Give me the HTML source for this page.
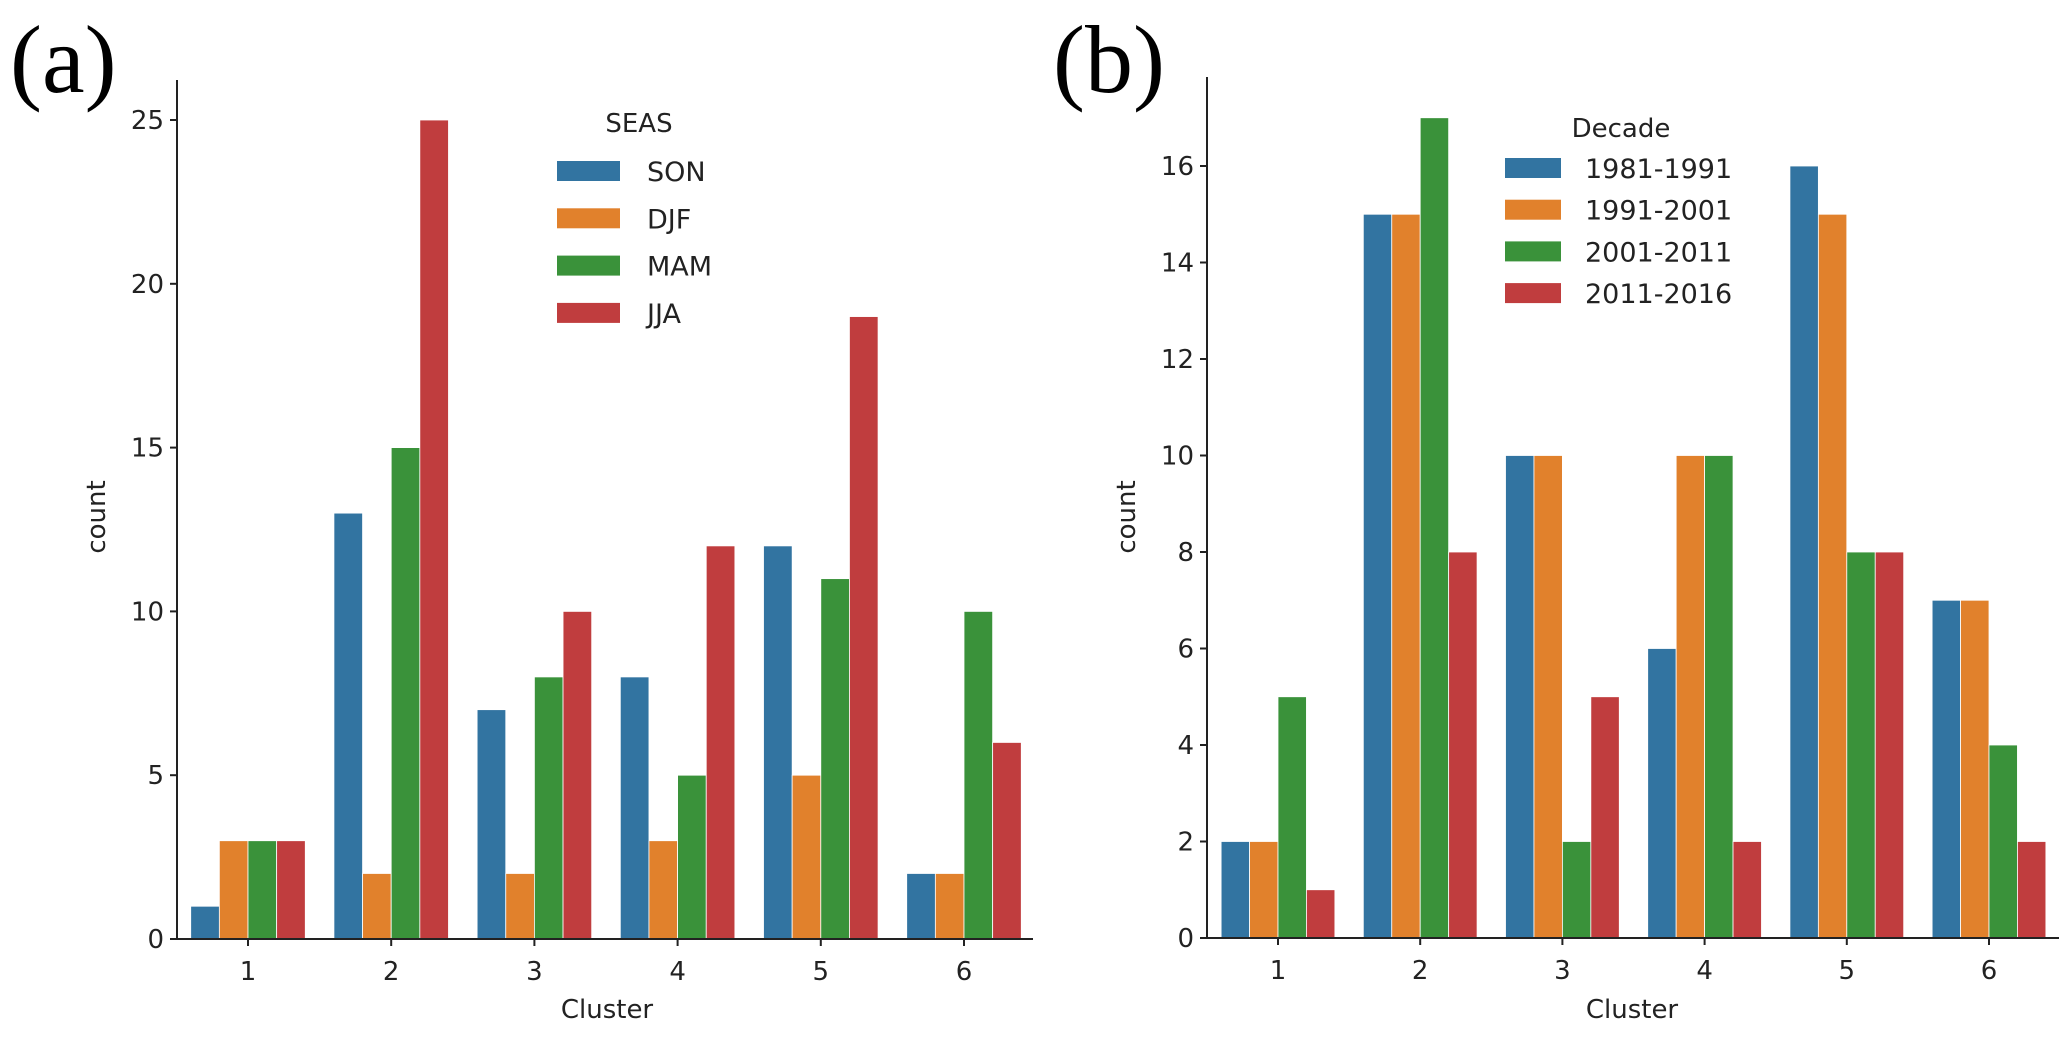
<!DOCTYPE html>
<html><head><meta charset="utf-8"><style>
body{margin:0;background:#fff}
svg text{font-family:"DejaVu Sans","Liberation Sans",sans-serif;fill:#222}
</style></head><body>
<svg id="c" width="2067" height="1038" xmlns="http://www.w3.org/2000/svg"></svg>
<script>
const categories=["1","2","3","4","5","6"];
const seasNames=["SON","DJF","MAM","JJA"];
const seasSON=[1,13,7,8,12,2];
const seasDJF=[3,2,2,3,5,2];
const seasMAM=[3,15,8,5,11,10];
const seasJJA=[3,25,10,12,19,6];
const ticksA=[0,5,10,15,20,25];
const decNames=["1981-1991","1991-2001","2001-2011","2011-2016"];
const dec1=[2,15,10,6,16,7];
const dec2=[2,15,10,10,15,7];
const dec3=[5,17,2,10,8,4];
const dec4=[1,8,5,2,8,2];
const ticksB=[0,2,4,6,8,10,12,14,16];
const colors=["#3274a1","#e1812c","#3a923a","#c03d3e"];
const svg=document.getElementById('c');
const NS="http://www.w3.org/2000/svg";
function mk(tag,attrs,parent){const e=document.createElementNS(NS,tag);for(const k in attrs)e.setAttribute(k,attrs[k]);(parent||svg).appendChild(e);return e;}
function panel(p){
  const g=mk('g',{});
  
  
  const y=v=>p.base-v*p.unit;
  const x=i=>p.c1+i*p.sp;
  const bw=p.sp*0.8/4;
  p.series.forEach((s,si)=>{
    s.forEach((v,i)=>{
      const r=mk('rect',{x:x(i)-p.sp*0.4+si*bw,y:y(v),width:bw,height:v*p.unit,fill:colors[si],stroke:'#fff','stroke-width':0.8},g);
      
      
    });
  });
  const ax=mk('path',{d:`M${p.ax} ${p.top}V${p.base}H${p.xend}`,stroke:'#222','stroke-width':2,fill:'none'},g);
  
  
  p.ticks.forEach(t=>{
    mk('line',{x1:p.ax-7,x2:p.ax,y1:y(t),y2:y(t),stroke:'#222','stroke-width':2},g);
    const tx=mk('text',{x:p.ax-13,y:y(t)+9,'font-size':26,'text-anchor':'end'},g);
    tx.textContent=t;
    
    
  });
  categories.forEach((c,i)=>{
    mk('line',{x1:x(i),x2:x(i),y1:p.base,y2:p.base+7,stroke:'#222','stroke-width':2},g);
    const tx=mk('text',{x:x(i),y:p.base+41,'font-size':26,'text-anchor':'middle'},g);
    tx.textContent=c;
    
    
  });
  const xt=mk('text',{x:p.xlab,y:1018,'font-size':26,'text-anchor':'middle'},g);
  xt.textContent='Cluster';
  
  
  const yt=mk('text',{x:0,y:0,'font-size':26,'text-anchor':'middle',transform:`translate(${p.ylabx},517) rotate(-90)`},g);
  yt.textContent='count';
  
  
  const lt=mk('text',{x:p.lt[0],y:p.lt[1]+9,'font-size':26,'text-anchor':'middle'},g);
  lt.textContent=p.ltitle;
  
  
  p.names.forEach((n,i)=>{
    const ry=p.rows[0]+i*p.rowsp;
    const r=mk('rect',{x:p.px,y:ry-10,width:p.pw,height:20,fill:colors[i]},g);
    
    
    const t=mk('text',{x:p.lx,y:ry+10,'font-size':27},g);
    t.textContent=n;
    
    
  });
  const pl=mk('text',{x:p.plx,y:92,'font-size':96,style:'font-family:"Liberation Serif",serif;fill:#000'},g);
  pl.textContent=p.plabel;
  
  
}
panel({id:'panel-a',series:[seasSON,seasDJF,seasMAM,seasJJA],names:seasNames,ticks:ticksA,base:939,unit:32.76,c1:248,sp:143.2,ax:177,top:80,xend:1033,xlab:607,ylabx:105,lt:[639,123],ltitle:'SEAS',rows:[171],rowsp:47.3,px:557,pw:63,lx:647,plx:10,plabel:'(a)'});
panel({id:'panel-b',series:[dec1,dec2,dec3,dec4],names:decNames,ticks:ticksB,base:938,unit:48.25,c1:1278,sp:142.2,ax:1207,top:77,xend:2059,xlab:1632,ylabx:1135,lt:[1621,128],ltitle:'Decade',rows:[168],rowsp:41.7,px:1505,pw:56,lx:1585,plx:1053,plabel:'(b)'});
</script>
</body></html>
